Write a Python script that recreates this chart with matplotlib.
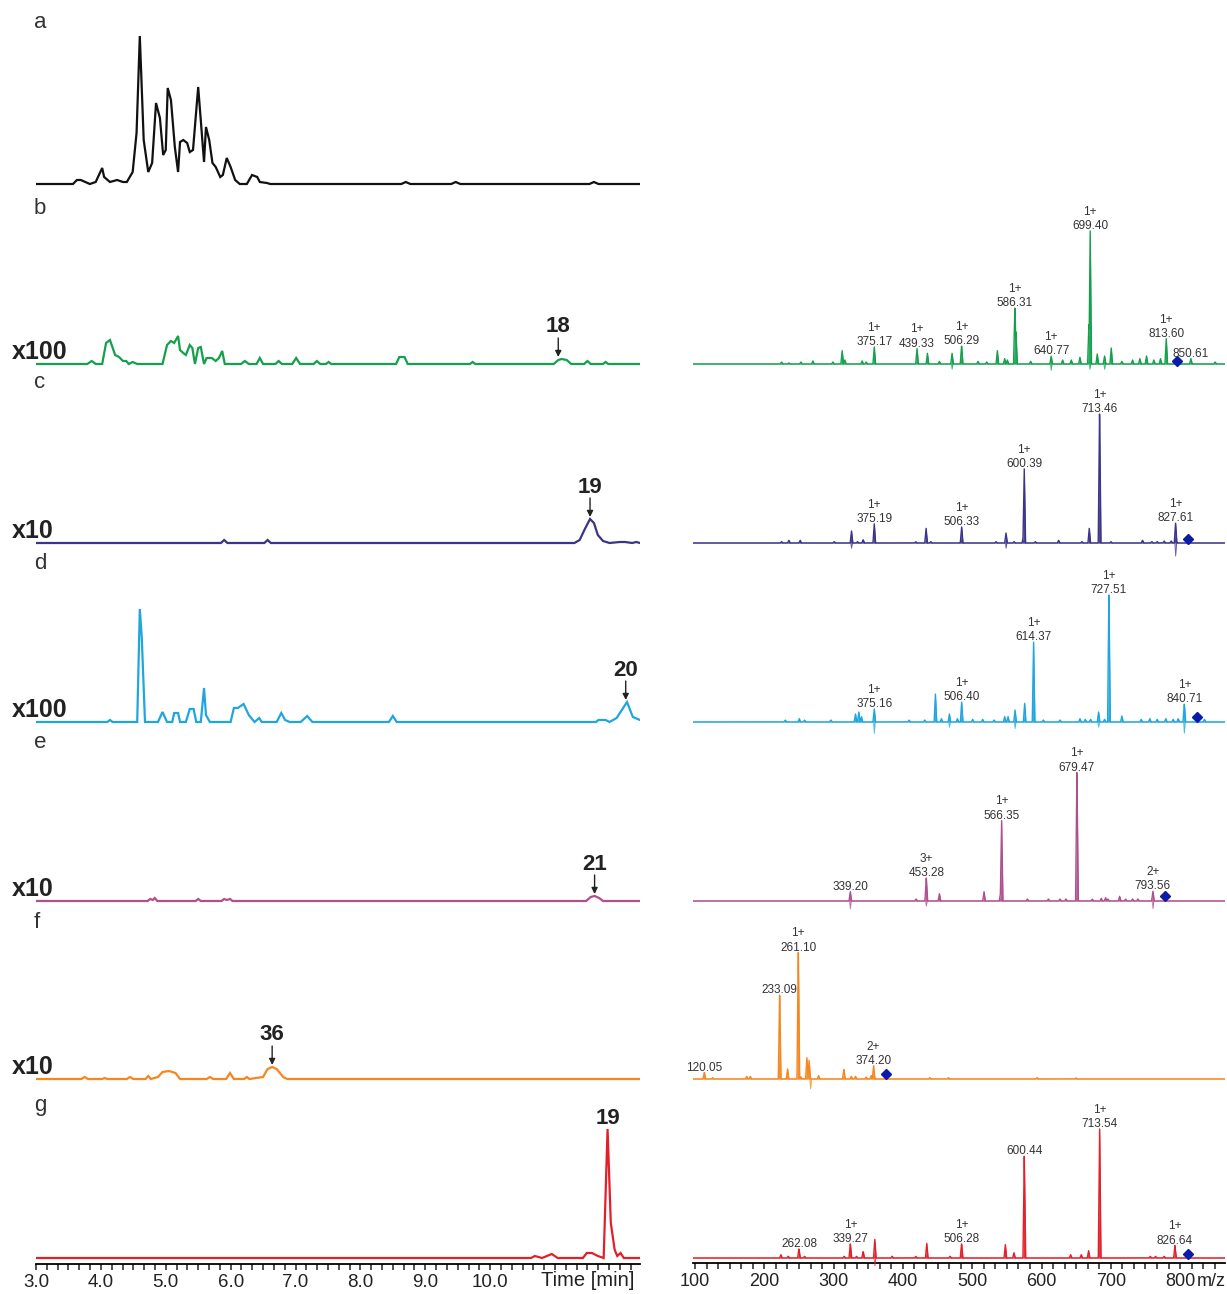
import numpy as np
import matplotlib.pyplot as plt
from matplotlib.ticker import MultipleLocator

plt.rcParams['font.family'] = ['Liberation Sans', 'DejaVu Sans']

W, H = 1227, 1294

# ---- chromatograms: retention time (min) / intensity (arb. units) ----
a_t = [3.00, 3.57, 3.63, 3.69, 3.83, 3.92, 4.02, 4.05, 4.14, 4.25, 4.34, 4.40, 4.49, 4.55, 4.60,
       4.66, 4.73, 4.79, 4.85, 4.91, 4.96, 5.00, 5.03, 5.08, 5.14, 5.19, 5.22, 5.27, 5.33, 5.37,
       5.42, 5.50, 5.59, 5.62, 5.67, 5.72, 5.77, 5.84, 5.88, 5.94, 6.00, 6.07, 6.14, 6.25, 6.33,
       6.41, 6.45, 6.56, 6.61, 8.63, 8.70, 8.77, 9.40, 9.47, 9.54, 11.53, 11.60, 11.67, 12.31]
a_y = [0, 0, 4, 4, 0, 2, 16, 7, 2, 4, 2, 2, 12, 51, 148,
       44, 12, 21, 81, 66, 29, 34, 96, 84, 37, 12, 42, 44, 41, 32,
       34, 97, 22, 57, 44, 21, 17, 7, 9, 26, 17, 4, 0, 0, 9,
       7, 2, 1, 0, 0, 2, 0, 0, 2, 0, 0, 2, 0, 0]

b_t = [3.00, 3.79, 3.86, 3.92, 4.02, 4.08, 4.14, 4.22, 4.28, 4.34, 4.39, 4.43, 4.49, 4.56, 4.95,
       5.02, 5.08, 5.13, 5.19, 5.22, 5.27, 5.31, 5.37, 5.41, 5.45, 5.50, 5.54, 5.59, 5.63, 5.71,
       5.77, 5.82, 5.87, 5.91, 6.16, 6.22, 6.28, 6.40, 6.45, 6.50, 6.69, 6.74, 6.79, 6.95, 7.01,
       7.07, 7.28, 7.33, 7.38, 7.47, 7.51, 7.55, 8.55, 8.60, 8.68, 8.73, 9.69, 9.73, 9.77, 10.98,
       11.05, 11.10, 11.18, 11.25, 11.45, 11.50, 11.55, 11.74, 11.78, 11.82, 12.31]
b_y = [0, 0, 3, 0, 0, 21, 24, 9, 7, 3, 3, 0, 2, 0, 0,
       19, 23, 21, 28, 14, 11, 9, 19, 16, 0, 16, 17, 0, 6, 6,
       3, 6, 13, 0, 0, 3, 0, 0, 6, 0, 0, 3, 0, 0, 6,
       0, 0, 3, 0, 0, 2, 0, 0, 7, 7, 0, 0, 2, 0, 0,
       4, 5, 4, 0, 0, 3, 0, 0, 2, 0, 0]

c_t = [3.00, 5.85, 5.90, 5.95, 6.52, 6.57, 6.62, 11.30, 11.38, 11.46, 11.54, 11.60, 11.66, 11.74,
       11.84, 12.00, 12.08, 12.19, 12.25, 12.31]
c_y = [0, 0, 3, 0, 0, 3, 0, 0, 3, 14, 24, 20, 8, 2, 0, 1, 1, 0, 1, 0]

d_t = [3.00, 4.10, 4.14, 4.18, 4.56, 4.60, 4.63, 4.68, 4.88, 4.95, 5.02, 5.10, 5.13, 5.19, 5.22,
       5.31, 5.37, 5.43, 5.47, 5.54, 5.59, 5.62, 5.68, 6.00, 6.05, 6.11, 6.20, 6.28, 6.33, 6.37,
       6.44, 6.48, 6.71, 6.78, 6.84, 6.91, 7.08, 7.18, 7.26, 8.44, 8.50, 8.56, 11.63, 11.67, 11.78,
       11.84, 11.95, 12.11, 12.20, 12.31]
d_y = [0, 0, 2, 0, 0, 113, 85, 0, 0, 10, 0, 0, 9, 9, 0,
       0, 13, 13, 0, 0, 34, 7, 0, 0, 14, 14, 18, 7, 3, 0,
       4, 0, 0, 9, 2, 0, 0, 6, 0, 0, 6, 0, 0, 2, 2,
       0, 4, 20, 5, 2]

e_t = [3.00, 4.72, 4.76, 4.80, 4.83, 4.87, 5.46, 5.50, 5.54, 5.86, 5.90, 5.94, 5.99, 6.03,
       11.48, 11.55, 11.61, 11.68, 11.74, 12.31]
e_y = [0, 0, 2, 1, 3, 0, 0, 2, 0, 0, 2, 1, 2, 0, 0, 4, 5, 3, 0, 0]

f_t = [3.00, 3.70, 3.75, 3.80, 4.02, 4.06, 4.10, 4.40, 4.45, 4.50, 4.69, 4.73, 4.77, 4.88, 4.95,
       5.05, 5.15, 5.22, 5.63, 5.68, 5.73, 5.93, 5.99, 6.05, 6.21, 6.25, 6.29, 6.50, 6.57, 6.64,
       6.71, 6.81, 6.87, 12.31]
f_y = [0, 0, 2, 0, 0, 1, 0, 0, 2, 0, 0, 3, 0, 2, 7,
       8, 6, 0, 0, 2, 0, 0, 6, 0, 0, 2, 0, 2, 10, 12,
       10, 2, 0, 0]

g_t = [3.00, 10.63, 10.69, 10.80, 10.95, 11.04, 11.43, 11.49, 11.57, 11.66, 11.75, 11.81, 11.86,
       11.92, 11.96, 12.01, 12.06, 12.31]
g_y = [0, 0, 2, 0, 4, 0, 0, 5, 5, 2, 0, 129, 35, 8, 2, 5, 0, 0]

# marked compounds in the chromatograms
mark_row = [1, 2, 3, 4, 5, 6]
mark_text = ['18', '19', '20', '21', '36', '19']
mark_time = [11.05, 11.54, 12.09, 11.61, 6.64, 11.81]
mark_arrow = [True, True, True, True, True, False]

# ---- MS spectra: m/z / relative intensity (%) ----
b_mz = [236, 247, 265, 283, 313, 327, 331, 357, 363, 375.17, 439.33, 455, 473, 492, 506.29, 531,
        544, 560, 571, 575, 586.31, 588, 610, 640.77, 658, 671, 684, 697.5, 699.40, 710, 721, 731,
        747, 763, 774, 784, 795, 805, 813.60, 850.61, 887]
b_int = [1.5, 0.8, 1.5, 2.3, 1.5, 10, 3, 2.3, 1.5, 13, 12, 8, 2, 8, 14, 2,
         1.5, 10, 4, 3, 44, 24, 2, 6, 3, 3, 5, 31, 100, 7.5, 6, 12,
         2, 3, 4, 6, 3, 4, 19, 4, 1.5]
b_dip_mz = [492, 640.77, 699, 721]
b_dip = [-4, -5, -4, -4]
b_lab = ['375.17', '439.33', '506.29', '586.31', '640.77', '699.40', '813.60', '850.61']
b_z = ['1+', '1+', '1+', '1+', '1+', '1+', '1+', '']

c_mz = [236, 247, 264, 315, 341, 350, 358.5, 375.19, 437.5, 453, 460, 506.33, 558, 573, 585,
        599, 600.39, 617, 652, 687, 698, 713.46, 730.5, 778, 792, 800, 810.5, 821, 827.61]
c_int = [1, 2, 2, 1, 9, 1, 2.5, 14.5, 1, 11, 1, 12.5, 1, 7.5, 1,
         5, 56, 1, 2, 1, 11, 100, 1, 2, 1, 1, 1.5, 1.5, 15]
c_dip_mz = [341, 573, 827.61]
c_dip = [-4, -4, -10]
c_lab = ['375.19', '506.33', '600.39', '713.46', '827.61']
c_z = ['1+', '1+', '1+', '1+', '1+']

d_mz = [241.5, 262.6, 270.5, 310, 347, 352, 356, 375.16, 427.5, 451, 467, 476, 488, 500, 506.40,
        523, 538, 555, 571, 576, 586.6, 601, 614.37, 629, 654, 684, 692, 700, 712, 721, 727.51,
        747, 776, 789, 800, 813, 824, 831.5, 840.71, 871]
d_int = [1.5, 2.5, 1.5, 1.5, 6, 7.5, 4, 10, 1.5, 1.5, 21, 2.5, 6, 2.5, 15,
         2, 2, 1.5, 4, 4, 9, 14, 61, 1.5, 1.5, 2.5, 2, 2, 7.5, 2, 100,
         4.5, 2, 2.5, 2, 2.5, 2, 2.5, 14, 2]
d_dip_mz = [375.16, 488, 586.6, 712, 840.71]
d_dip = [-9, -4, -5, -4, -9]
d_lab = ['375.16', '506.40', '614.37', '727.51', '840.71']
d_z = ['1+', '1+', '1+', '1+', '1+']

e_mz = [339.20, 438, 453.28, 473, 540, 564.8, 566.35, 605, 636.6, 654, 663, 679.47, 702.5, 716,
        722.5, 726, 743.6, 752.5, 763, 771, 793.56]
e_int = [7, 1.5, 18, 5.5, 7, 6, 62, 1.5, 1.5, 1.5, 1.5, 100, 1.5, 2,
         2.5, 1.5, 3.5, 1.5, 1.5, 1.5, 7.5]
e_dip_mz = [339.20, 453.28, 793.56]
e_dip = [-6, -4, -6]
e_lab = ['339.20', '453.28', '566.35', '679.47', '793.56']
e_z = ['', '3+', '1+', '1+', '2+']

f_mz = [120.05, 132.5, 183.6, 189, 233.09, 245, 261.10, 265, 274, 277.4, 291.6, 329.5, 340.6,
        347, 363, 370.6, 374.20, 458.6, 486.5, 619.8, 678]
f_int = [5, 1, 2, 2, 66, 7.5, 100, 1.5, 16, 14, 2.5, 7.5, 2,
         2, 1.5, 2.5, 10, 1, 1, 1, 0.8]
f_dip_mz = [279.5]
f_dip = [-8]
f_lab = ['120.05', '233.09', '261.10', '374.20']
f_z = ['', '', '1+', '2+']

g_mz = [235, 246, 262.08, 270.5, 330, 339.27, 348.5, 358.5, 376, 402, 437.5, 454, 489, 506.28,
        572, 585, 600.44, 670, 686, 697, 713.54, 789.5, 797.5, 810.5, 826.64]
g_int = [2.5, 1.3, 7, 1.3, 1.3, 11, 1.3, 5, 14, 1.3, 1.3, 11, 1.3, 11,
         10, 4, 78, 2.5, 2.5, 5.5, 100, 1.3, 1.3, 1.3, 9.5]
g_dip_mz = [376]
g_dip = [-6]
g_lab = ['262.08', '339.27', '506.28', '600.44', '713.54', '826.64']
g_z = ['', '1+', '1+', '', '1+', '1+']

# precursor ions (blue diamonds)
prec_mz = [829, 846, 859.5, 812, 393, 846]
prec_int = [2.5, 3, 4, 4, 4, 3]

letters = ['a', 'b', 'c', 'd', 'e', 'f', 'g']
scales = ['', 'x100', 'x10', 'x100', 'x10', 'x10', '']
colors = ['#111111', '#14a04c', '#3b3488', '#1fa6e0', '#b04f8e', '#f6861f', '#e3202a']

chrom_t = [a_t, b_t, c_t, d_t, e_t, f_t, g_t]
chrom_y = [a_y, b_y, c_y, d_y, e_y, f_y, g_y]
spectra = [None,
           (b_mz, b_int, b_dip_mz, b_dip, b_lab, b_z),
           (c_mz, c_int, c_dip_mz, c_dip, c_lab, c_z),
           (d_mz, d_int, d_dip_mz, d_dip, d_lab, d_z),
           (e_mz, e_int, e_dip_mz, e_dip, e_lab, e_z),
           (f_mz, f_int, f_dip_mz, f_dip, f_lab, f_z),
           (g_mz, g_int, g_dip_mz, g_dip, g_lab, g_z)]

# layout (pixels)
baselines = [184, 364, 543, 722, 901, 1079, 1258]
letter_y = [22, 208, 383, 563, 743, 923, 1106]
PXPCT = 1.33  # pixels per % in the spectra

fig = plt.figure(figsize=(W / 100, H / 100), dpi=100)


def px_axes(x0, x1, base):
    ax = fig.add_axes([x0 / W, 1 - (base + 15) / H, (x1 - x0) / W, 180 / H])
    ax.set_facecolor('none')
    for s in ax.spines.values():
        s.set_visible(False)
    ax.set_xticks([])
    ax.set_yticks([])
    return ax


def tri_profile(grid, mz, inten, w, neg=False):
    y = np.zeros_like(grid)
    for m, h in zip(mz, inten):
        tri = h * np.clip(1 - np.abs(grid - m) / w, 0, None)
        y = np.minimum(y, tri) if neg else np.maximum(y, tri)
    return y


chrom_axes = []
spec_axes = []
for i, base in enumerate(baselines):
    col = colors[i]
    ax = px_axes(36, 640, base)
    ax.set_xlim(3.0, 12.31)
    ax.set_ylim(-15, 165)
    ax.plot(chrom_t[i], chrom_y[i], color=col, lw=1.6, solid_joinstyle='miter')
    chrom_axes.append(ax)

    fig.text(34 / W, 1 - letter_y[i] / H, letters[i], ha='left', va='center',
             fontsize=16, color='#333333')
    if scales[i]:
        fig.text(12 / W, 1 - (base - 12) / H, scales[i], ha='left', va='center',
                 fontsize=18, fontweight='bold', color='#222222')

    if spectra[i] is None:
        continue
    mz, inten, dmz, dint, labs, zs = spectra[i]
    sx = px_axes(693, 1225, base)
    sx.set_xlim(103, 901.8)
    sx.set_ylim(-15 / PXPCT, 165 / PXPCT)
    grid = np.arange(103, 901.8, 0.2)
    pos = tri_profile(grid, mz, inten, 2.0)
    neg = tri_profile(grid, dmz, dint, 1.2, neg=True)
    sx.fill_between(grid, 0, pos, color=col, lw=0, alpha=0.9)
    sx.fill_between(grid, 0, neg, color=col, lw=0, alpha=0.6)
    sx.plot(grid, pos, color=col, lw=1.0)
    sx.plot(grid, neg, color=col, lw=0.6, alpha=0.7)
    for txt, z in zip(labs, zs):
        m = float(txt)
        top = pos[np.abs(grid - m) <= 2.5].max()
        sx.annotate(txt, (m, top), xytext=(0, 3.6), textcoords='offset points',
                    ha='center', va='center', fontsize=8.5, color='#333333')
        if z:
            sx.annotate(z, (m, top), xytext=(0, 13.8), textcoords='offset points',
                        ha='center', va='center', fontsize=8.5, color='#333333')
    sx.plot(prec_mz[i - 1], prec_int[i - 1], marker='D', ms=5.5, color='#0b1aa8')
    spec_axes.append(sx)

# compound numbers and arrows
for r, txt, t, arr in zip(mark_row, mark_text, mark_time, mark_arrow):
    ax = chrom_axes[r]
    tt = np.array(chrom_t[r])
    yy = np.array(chrom_y[r])
    top = yy[np.abs(tt - t) <= 0.1].max()
    if arr:
        tip, tail = top + 2, top + 21
        ax.annotate('', xy=(t, tip), xytext=(t, tail),
                    arrowprops=dict(arrowstyle='-|>', color='#222222', lw=1.0,
                                    mutation_scale=9, shrinkA=0, shrinkB=0))
        ax.text(t, tail + 11, txt, ha='center', va='center', fontsize=16,
                fontweight='bold', color='#222222')
    else:
        ax.text(t, top + 11, txt, ha='center', va='center', fontsize=16,
                fontweight='bold', color='#222222')

# time axis
axg = chrom_axes[-1]
axg.spines['bottom'].set_visible(True)
axg.spines['bottom'].set_position(('data', -6))
axg.spines['bottom'].set_linewidth(1.3)
time_ticks = [3, 4, 5, 6, 7, 8, 9, 10, 11, 12]
time_labels = ['3.0', '4.0', '5.0', '6.0', '7.0', '8.0', '9.0', '10.0', '', '']
axg.set_xticks(time_ticks, labels=time_labels)
axg.xaxis.set_minor_locator(MultipleLocator(1 / 6))
axg.tick_params(axis='x', which='both', direction='out', length=4.5, width=1.1,
                labelsize=13.5, pad=3, colors='#222222')
fig.text(541 / W, 1 - 1281 / H, 'Time [min]', ha='left', va='center', fontsize=14.5,
         color='#222222')


# m/z axis (printed scale of the original ruler, drawn slightly off the data scale)
def fwd(m):
    return 100 + ((m - 100) * 0.666 - 4) / 0.693


def inv(p):
    return 100 + ((p - 100) * 0.693 + 4) / 0.666


sec = spec_axes[-1].secondary_xaxis(10 / 180, functions=(fwd, inv))
sec.set_xticks([100, 200, 300, 400, 500, 600, 700, 800])
sec.xaxis.set_minor_locator(MultipleLocator(100 / 6))
sec.tick_params(axis='x', which='both', direction='out', length=4.5, width=1.1,
                labelsize=13, pad=3, colors='#222222')
sec.spines['bottom'].set_linewidth(1.3)
fig.text(1226 / W, 1 - 1282 / H, 'm/z', ha='right', va='center', fontsize=13,
         color='#222222')

fig.savefig('out.png', dpi=100)
